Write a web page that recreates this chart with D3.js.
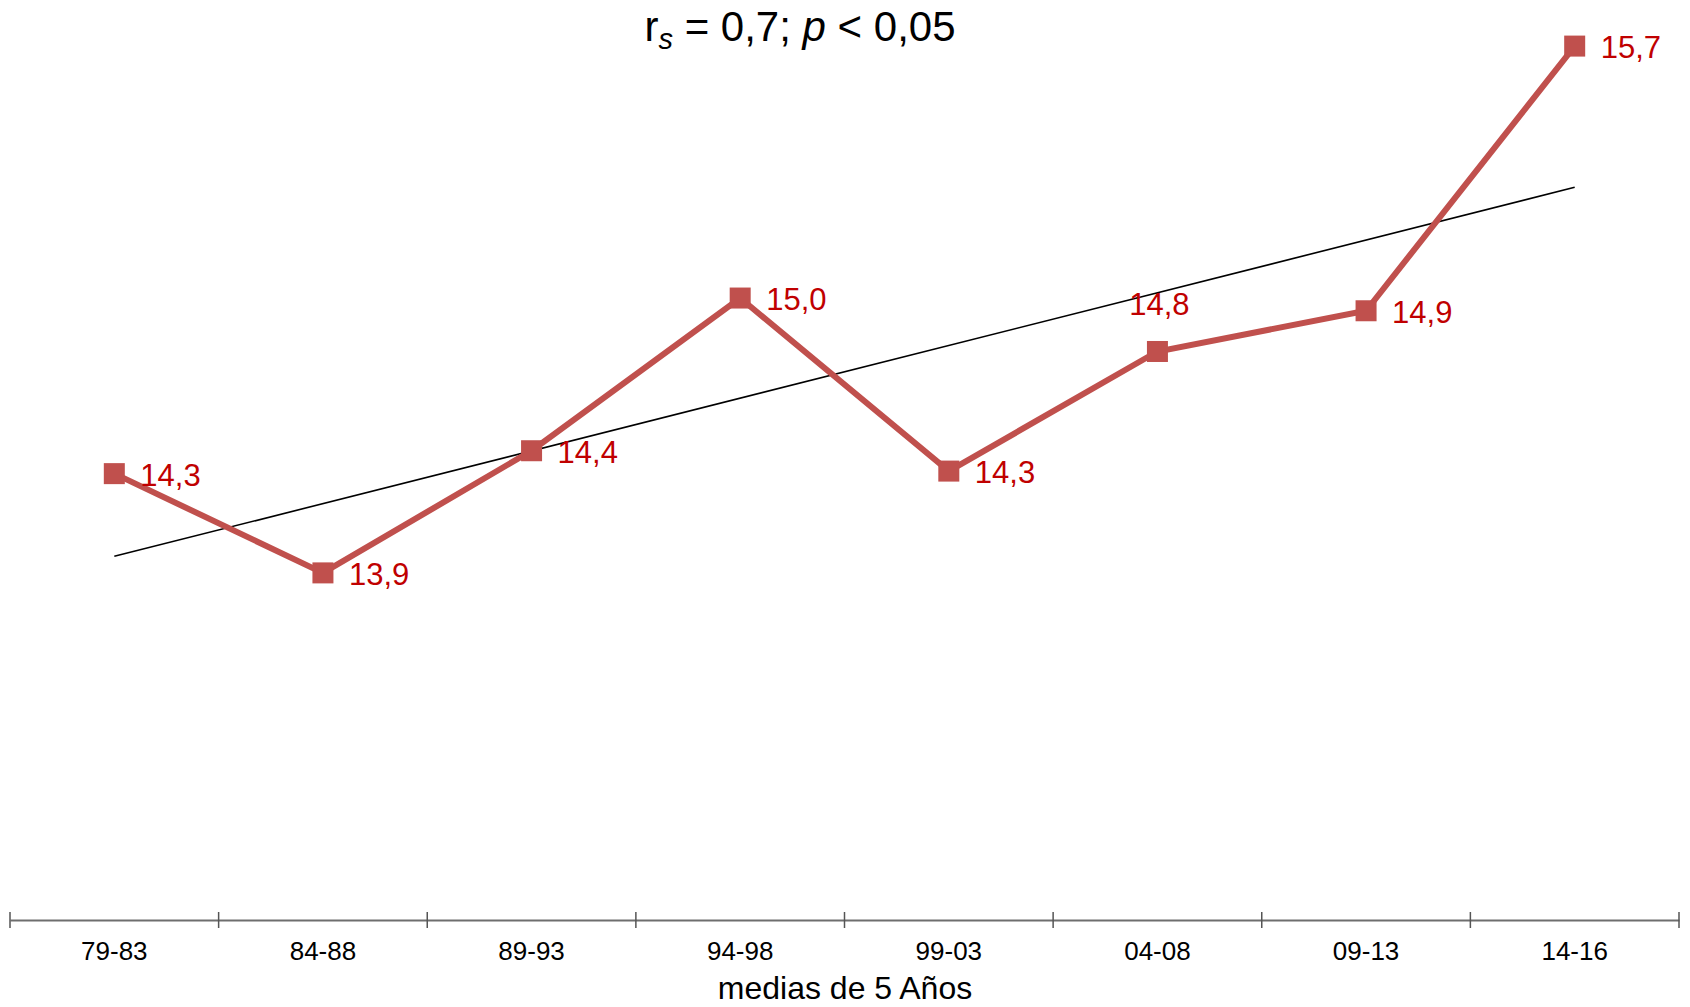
<!DOCTYPE html>
<html>
<head>
<meta charset="utf-8">
<script src="https://cdn.jsdelivr.net/npm/d3@7"></script>
<style>
  body { margin: 0; background: #fff; }
  text { font-family: "Liberation Sans", Arial, sans-serif; }
</style>
</head>
<body>
<svg id="chart" width="1690" height="1007"></svg>
<script>
// periods (5-year means)
var periods = ["79-83", "84-88", "89-93", "94-98", "99-03", "04-08", "09-13", "14-16"];
// plotted values
var values = [14.30, 13.91, 14.39, 14.99, 14.31, 14.78, 14.94, 15.98];
// labels as printed next to the points
var labels = ["14,3", "13,9", "14,4", "15,0", "14,3", "14,8", "14,9", "15,7"];
// where the label sits: "right" of the marker or "above" it
var labelPos = ["right", "right", "right", "right", "right", "above", "right", "right"];

var svg = d3.select("#chart");
var axisY = 920;

var x = d3.scaleBand().domain(periods).range([10, 1679]);
var y = d3.scaleLinear().domain([12.55, 16.0]).range([919, 41]);
var cx = function(i){ return x(periods[i]) + x.bandwidth() / 2; };

// title
var title = svg.append("text")
    .attr("x", 800).attr("y", 41)
    .attr("text-anchor", "middle")
    .style("font-size", "42px")
    .attr("fill", "#000");
title.append("tspan").text("r");
title.append("tspan").attr("font-style", "italic").attr("font-size", "29px").attr("dy", 8).text("s");
title.append("tspan").attr("dy", -8).text(" = 0,7; ");
title.append("tspan").attr("font-style", "italic").text("p");
title.append("tspan").text(" < 0,05");

// linear trend (least squares over the plotted values)
var n = values.length;
var mx = d3.mean(values, function(d, i){ return i; });
var my = d3.mean(values);
var sxy = d3.sum(values, function(d, i){ return (i - mx) * (d - my); });
var sxx = d3.sum(values, function(d, i){ return (i - mx) * (i - mx); });
var slope = sxy / sxx, icpt = my - slope * mx;

svg.append("line")
    .attr("x1", cx(0)).attr("y1", y(icpt))
    .attr("x2", cx(n - 1)).attr("y2", y(icpt + slope * (n - 1)))
    .attr("stroke", "#000")
    .attr("stroke-width", 1.6);

// series line
var line = d3.line()
    .x(function(d, i){ return cx(i); })
    .y(function(d){ return y(d); });

svg.append("path")
    .datum(values)
    .attr("d", line)
    .attr("fill", "none")
    .attr("stroke", "#C0504D")
    .attr("stroke-width", 6);

// markers
var ms = 21;
svg.selectAll(".mk")
    .data(values)
  .enter().append("rect")
    .attr("class", "mk")
    .attr("x", function(d, i){ return cx(i) - ms / 2; })
    .attr("y", function(d){ return y(d) - ms / 2; })
    .attr("width", ms).attr("height", ms)
    .attr("fill", "#C0504D");

// data labels
svg.selectAll(".lbl")
    .data(values)
  .enter().append("text")
    .attr("class", "lbl")
    .attr("x", function(d, i){ return labelPos[i] == "above" ? cx(i) + 2 : cx(i) + 26; })
    .attr("y", function(d, i){ return labelPos[i] == "above" ? y(d) - 36 : y(d) + 12; })
    .attr("text-anchor", function(d, i){ return labelPos[i] == "above" ? "middle" : "start"; })
    .style("font-size", "31px")
    .attr("fill", "#C00000")
    .text(function(d, i){ return labels[i]; });

// x axis
var gx = svg.append("g")
    .attr("transform", "translate(0," + axisY + ")")
    .call(d3.axisBottom(x).tickSize(0).tickPadding(22));
gx.select(".domain").attr("stroke", "#6e6e6e").attr("stroke-width", 2);
gx.selectAll(".tick text")
    .style("font-size", "26px")
    .attr("fill", "#000");

// boundary ticks crossing the axis
var bounds = periods.map(function(p){ return x(p); }).concat([x.range()[1]]);
gx.selectAll(".bt")
    .data(bounds)
  .enter().append("line")
    .attr("class", "bt")
    .attr("x1", function(d){ return d; }).attr("x2", function(d){ return d; })
    .attr("y1", -8).attr("y2", 8)
    .attr("stroke", "#555")
    .attr("stroke-width", 1.5);

// axis title
svg.append("text")
    .attr("x", 845).attr("y", 999)
    .attr("text-anchor", "middle")
    .style("font-size", "32px")
    .attr("fill", "#000")
    .text("medias de 5 Años");
</script>
</body>
</html>
